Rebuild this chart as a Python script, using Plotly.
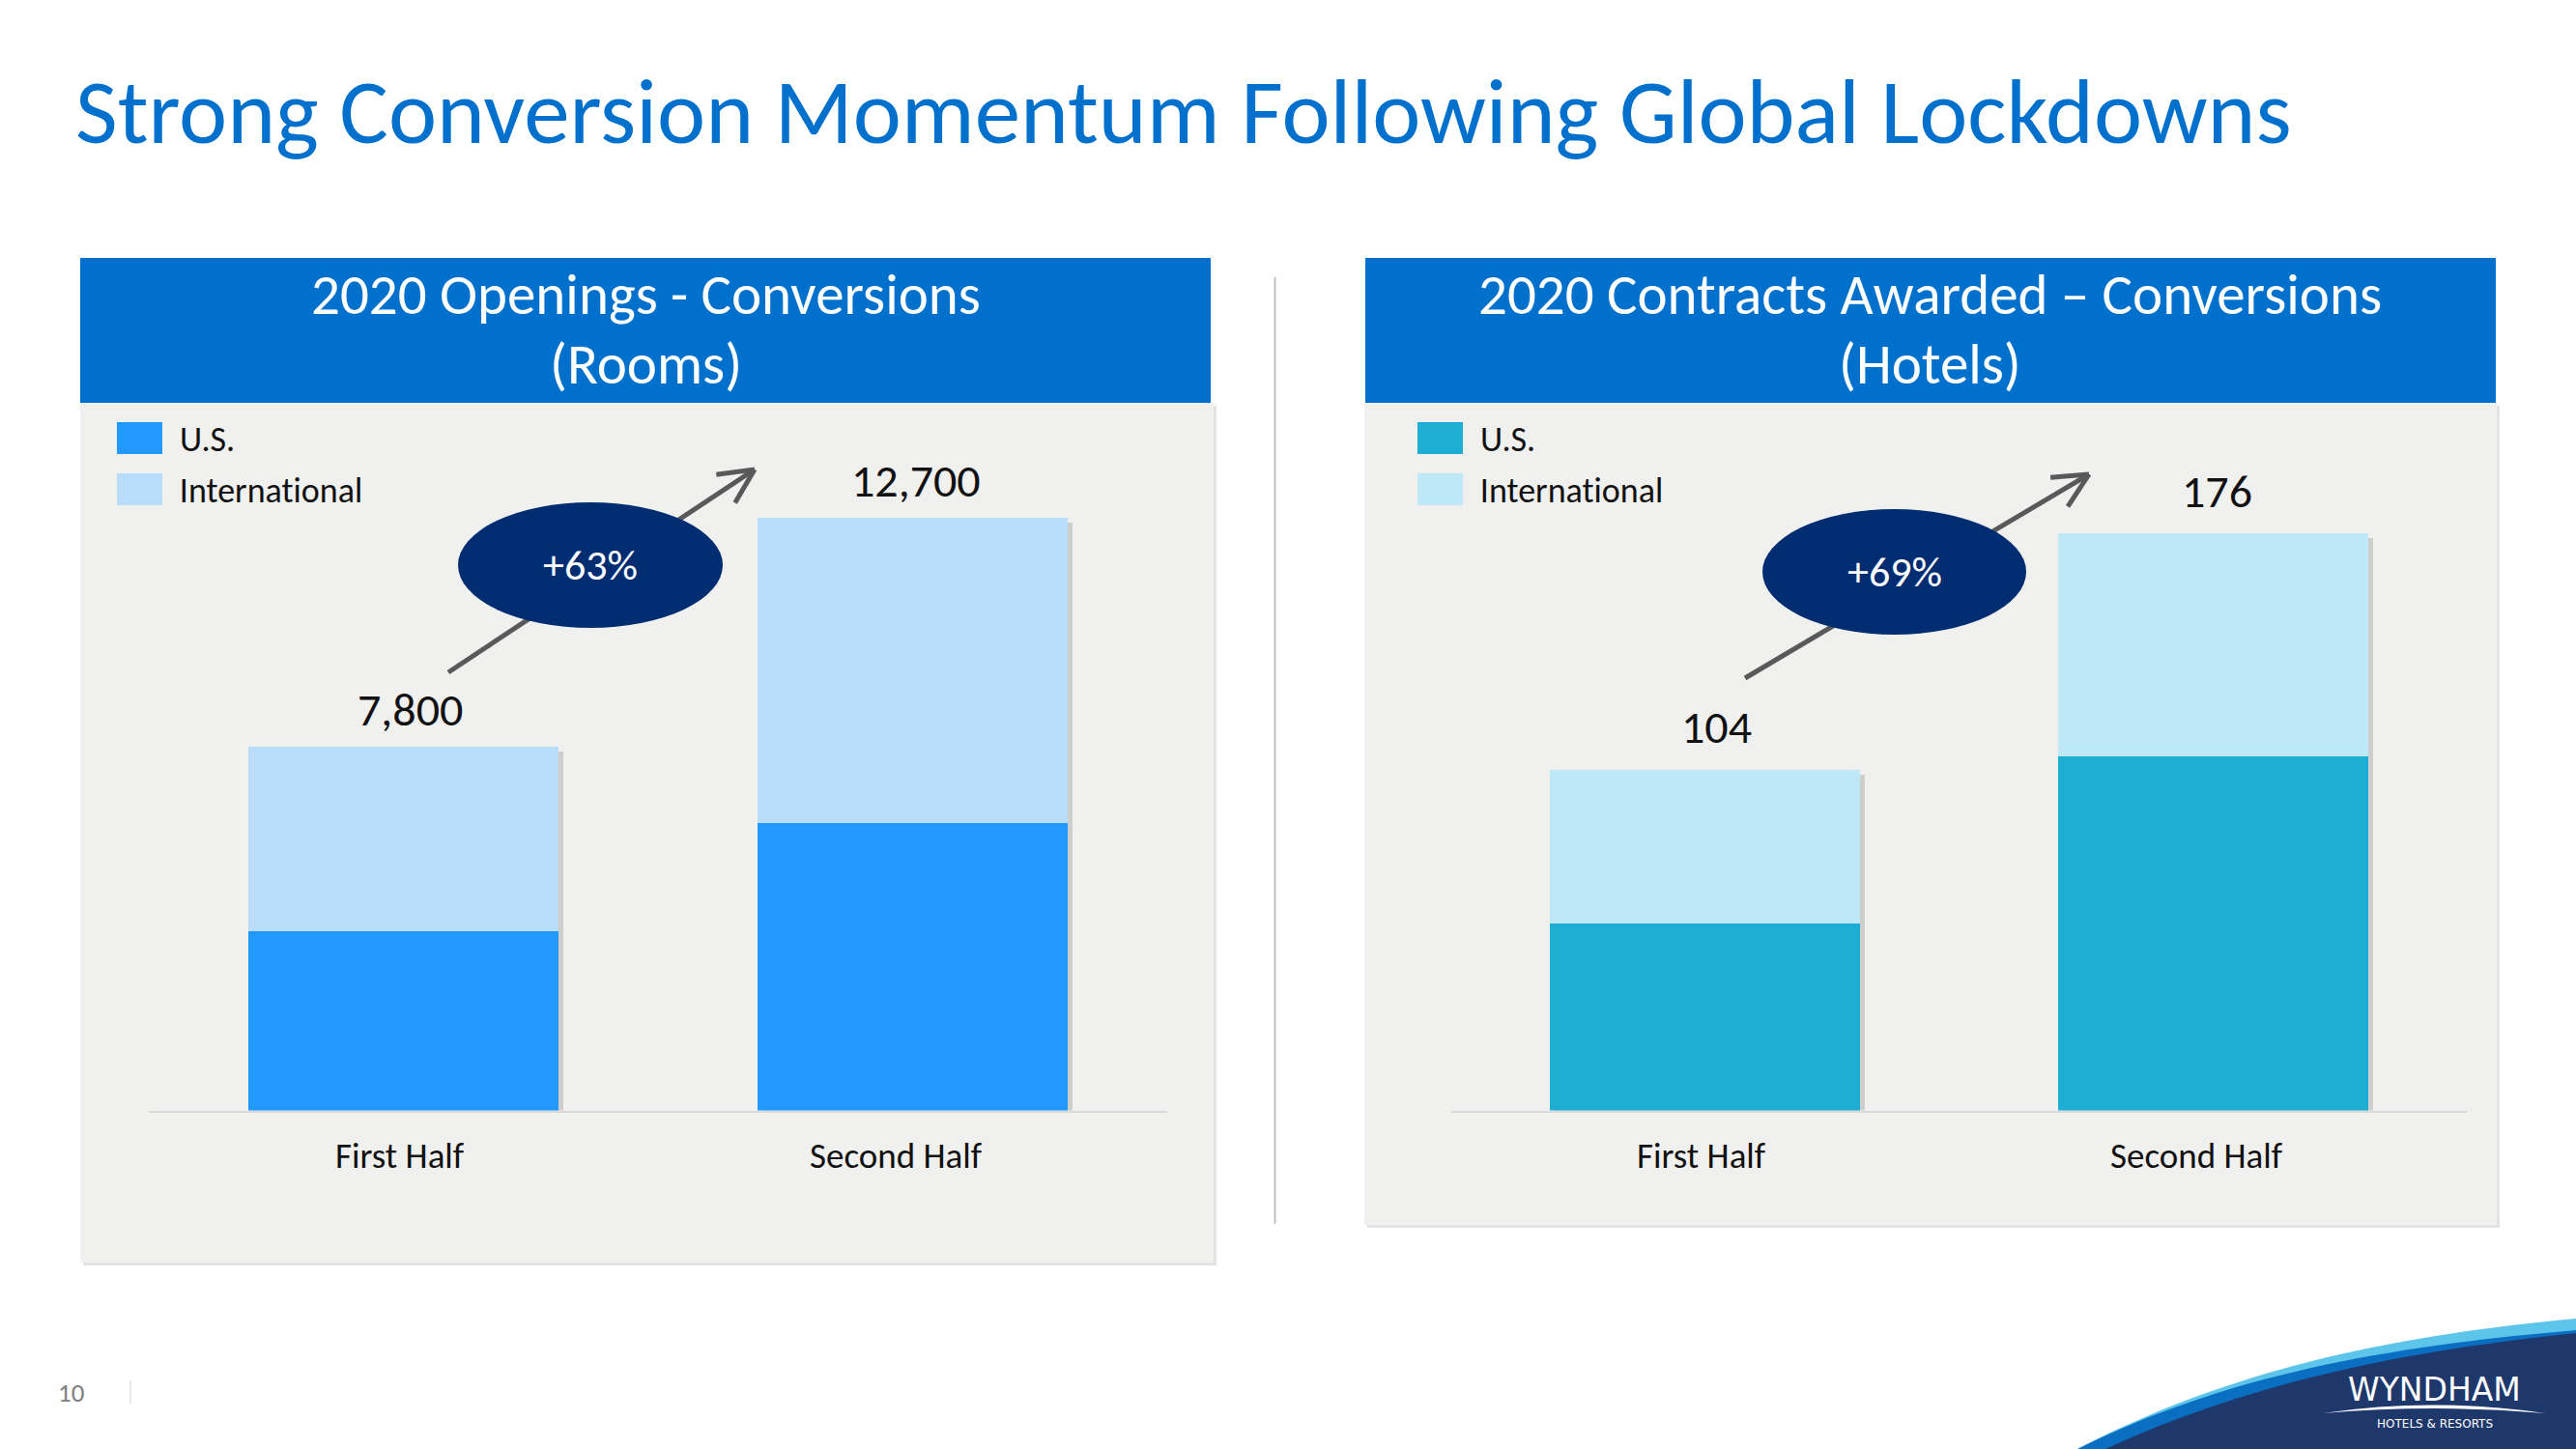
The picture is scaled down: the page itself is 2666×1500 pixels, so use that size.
import math
import plotly.graph_objects as go

W, H = 2666, 1500

# ---------------- data ----------------
categories = ["First Half", "Second Half"]
series_names = ["U.S.", "International"]
rooms_us = [3850, 6150]
rooms_intl = [3950, 6550]
hotels_us = [57, 108]
hotels_intl = [47, 68]

title_text = "Strong Conversion Momentum Following Global Lockdowns"
panel_title_1 = ["2020 Openings - Conversions", "(Rooms)"]
panel_title_2 = ["2020 Contracts Awarded – Conversions", "(Hotels)"]
page_number = "10"

FONT = "Carlito, Calibri, Lato, sans-serif"
BLUE = "#0070CD"
NAVY = "#002D72"
PANEL = "#F0F0EF"


def fx(x):
    return x / W


def fy(y):
    return 1 - y / H


# layout-only settings (pixel geometry of the slide)
panels = [
    dict(xa="x", ya="y", us=rooms_us, intl=rooms_intl, titles=panel_title_1,
         colors=("#2199FE", "#B7DDFB"),
         header=(83, 267, 1253, 417), body=(83, 417, 1256, 1307),
         xdom=(154, 1208), ytop=420, ybase=1149.5, ymax=15100,
         legend_x=(121, 168), legend_text_x=184,
         ell=(474, 520, 748, 650), arrow=((464, 696), (781, 486)), label_gap=38,
         label_dx=(7, 3), tick_dx=(-4, -17)),
    dict(xa="x2", ya="y2", us=hotels_us, intl=hotels_intl, titles=panel_title_2,
         colors=("#1EADD3", "#BEE8F6"),
         header=(1413, 267, 2583, 417), body=(1412, 417, 2584, 1268),
         xdom=(1502, 2553), ytop=420, ybase=1149.5, ymax=215,
         legend_x=(1467, 1514), legend_text_x=1530,
         ell=(1824, 527, 2097, 657), arrow=((1806, 702), (2162, 491)), label_gap=44,
         label_dx=(12, 4), tick_dx=(-4, -17)),
]

fig = go.Figure()
shapes = []
annotations = []
BAR_W = 0.61

for i, p in enumerate(panels):
    totals = [a + b for a, b in zip(p["us"], p["intl"])]
    px_per_cat = (p["xdom"][1] - p["xdom"][0]) / 2.0
    units_per_px = p["ymax"] / (p["ybase"] - p["ytop"])
    dx = 5 / px_per_cat
    dy = 5 * units_per_px
    # soft drop shadow behind each stacked bar
    fig.add_trace(go.Bar(x=categories, y=totals, base=[-dy] * len(totals),
                         offset=-BAR_W / 2 + dx, width=BAR_W,
                         marker=dict(color="rgba(0,0,0,0.14)", line=dict(width=0)),
                         xaxis=p["xa"], yaxis=p["ya"], showlegend=False, hoverinfo="skip"))
    fig.add_trace(go.Bar(x=categories, y=p["us"], width=BAR_W, name=series_names[0],
                         marker=dict(color=p["colors"][0], line=dict(width=0)),
                         xaxis=p["xa"], yaxis=p["ya"], showlegend=False))
    fig.add_trace(go.Bar(x=categories, y=p["intl"], base=p["us"], width=BAR_W, name=series_names[1],
                         marker=dict(color=p["colors"][1], line=dict(width=0)),
                         xaxis=p["xa"], yaxis=p["ya"], showlegend=False))

    sfx = "" if i == 0 else "2"
    fig.layout["xaxis" + sfx] = dict(domain=[fx(p["xdom"][0]), fx(p["xdom"][1])], type="category",
                                     range=[-0.5, 1.5], showticklabels=False, showline=True,
                                     linecolor="#D9D9D9", linewidth=2, ticks="", showgrid=False,
                                     zeroline=False, anchor="y" + sfx, fixedrange=True)
    fig.layout["yaxis" + sfx] = dict(domain=[fy(p["ybase"]), fy(p["ytop"])], range=[0, p["ymax"]],
                                     visible=False, anchor="x" + sfx, fixedrange=True)

    # panel background / shadow / header
    bx0, by0, bx1, by1 = p["body"]
    shapes.append(dict(type="rect", xref="paper", yref="paper", layer="below",
                       x0=fx(bx0 + 3), x1=fx(bx1 + 3), y0=fy(by1 + 3), y1=fy(by0 + 3),
                       fillcolor="#E3E3E3", line=dict(width=0)))
    shapes.append(dict(type="rect", xref="paper", yref="paper", layer="below",
                       x0=fx(bx0), x1=fx(bx1), y0=fy(by1), y1=fy(by0),
                       fillcolor=PANEL, line=dict(width=0)))
    hx0, hy0, hx1, hy1 = p["header"]
    shapes.append(dict(type="rect", xref="paper", yref="paper", layer="below",
                       x0=fx(hx0), x1=fx(hx1), y0=fy(hy1), y1=fy(hy0),
                       fillcolor=BLUE, line=dict(width=0)))
    hc = (hx0 + hx1) / 2
    for text, yc in zip(p["titles"], (305, 377)):
        annotations.append(dict(text=text, x=fx(hc), y=fy(yc), xref="paper", yref="paper",
                                xanchor="center", yanchor="middle", showarrow=False,
                                font=dict(family=FONT, size=59, color="white")))

    # legend
    for name, col, (ly0, ly1) in zip(series_names, p["colors"], ((437, 470), (490, 523))):
        shapes.append(dict(type="rect", xref="paper", yref="paper", layer="above",
                           x0=fx(p["legend_x"][0]), x1=fx(p["legend_x"][1]),
                           y0=fy(ly1), y1=fy(ly0), fillcolor=col, line=dict(width=0)))
        annotations.append(dict(text=name, x=fx(p["legend_text_x"]), y=fy((ly0 + ly1) / 2 + 2),
                                xref="paper", yref="paper", xanchor="left", yanchor="middle",
                                showarrow=False, font=dict(family=FONT, size=36, color="#111111")))

    # category labels and total labels
    for k, (c, t) in enumerate(zip(categories, totals)):
        annotations.append(dict(text=c, x=c, y=0, xref=p["xa"], yref=p["ya"], xanchor="center",
                                yanchor="middle", yshift=-(1196 - p["ybase"]),
                                xshift=p["tick_dx"][k], showarrow=False,
                                font=dict(family=FONT, size=37, color="#111111")))
        annotations.append(dict(text=f"{t:,}", x=c, y=t, xref=p["xa"], yref=p["ya"],
                                xanchor="center", yanchor="middle", yshift=p["label_gap"],
                                xshift=p["label_dx"][k], showarrow=False,
                                font=dict(family=FONT, size=48, color="#111111")))

    # growth arrow + ellipse
    (sx, sy), (tx, ty) = p["arrow"]
    shapes.append(dict(type="line", xref="paper", yref="paper", layer="above",
                       x0=fx(sx), y0=fy(sy), x1=fx(tx), y1=fy(ty),
                       line=dict(color="#595959", width=5)))
    back = math.atan2(sy - ty, sx - tx)
    for s in (-1, 1):
        a = back + s * math.radians(26)
        ax, ay = tx + 40 * math.cos(a), ty + 40 * math.sin(a)
        shapes.append(dict(type="line", xref="paper", yref="paper", layer="above",
                           x0=fx(tx), y0=fy(ty), x1=fx(ax), y1=fy(ay),
                           line=dict(color="#595959", width=5)))
    ex0, ey0, ex1, ey1 = p["ell"]
    shapes.append(dict(type="circle", xref="paper", yref="paper", layer="above",
                       x0=fx(ex0), x1=fx(ex1), y0=fy(ey1), y1=fy(ey0),
                       fillcolor=NAVY, line=dict(width=0)))
    growth = round((totals[1] / totals[0] - 1) * 100)
    annotations.append(dict(text=f"+{growth}%", x=fx((ex0 + ex1) / 2), y=fy((ey0 + ey1) / 2),
                            xref="paper", yref="paper", xanchor="center", yanchor="middle",
                            showarrow=False, font=dict(family=FONT, size=44, color="white")))

# divider between panels
shapes.append(dict(type="line", xref="paper", yref="paper", layer="below",
                   x0=fx(1319.5), x1=fx(1319.5), y0=fy(1267), y1=fy(287),
                   line=dict(color="#BFBFBF", width=2)))

# title
annotations.append(dict(text=title_text, x=fx(76), y=fy(116), xref="paper", yref="paper",
                        xanchor="left", yanchor="middle", showarrow=False,
                        font=dict(family=FONT, size=95, color=BLUE)))

# footer page number
annotations.append(dict(text=page_number, x=fx(58), y=fy(1441), xref="paper", yref="paper",
                        xanchor="left", yanchor="middle", showarrow=False,
                        font=dict(family=FONT, size=27, color="#7F7F7F")))
shapes.append(dict(type="line", xref="paper", yref="paper", layer="below",
                   x0=fx(135), x1=fx(135), y0=fy(1453), y1=fy(1429),
                   line=dict(color="#D0D0D0", width=1)))


def path(cmds):
    s = []
    for c, pts in cmds:
        s.append(c + " " + " ".join(f"{fx(x):.5f},{fy(y):.5f}" for x, y in pts))
    return " ".join(s) + " Z"


# logo swoosh
shapes.append(dict(type="path", xref="paper", yref="paper", layer="above", line=dict(width=0),
                   fillcolor="#5EC5EA",
                   path=path([("M", [(2150, 1500)]),
                              ("C", [(2290, 1428), (2440, 1386), (2666, 1365)]),
                              ("L", [(2666, 1500)])])))
shapes.append(dict(type="path", xref="paper", yref="paper", layer="above", line=dict(width=0),
                   fillcolor="#0B6FC1",
                   path=path([("M", [(2150, 1500)]),
                              ("C", [(2290, 1430), (2450, 1395), (2666, 1377)]),
                              ("L", [(2666, 1500)])])))
shapes.append(dict(type="path", xref="paper", yref="paper", layer="above", line=dict(width=0),
                   fillcolor="#1F386C",
                   path=path([("M", [(2179, 1500)]),
                              ("C", [(2310, 1440), (2460, 1401), (2666, 1380)]),
                              ("L", [(2666, 1500)])])))
shapes.append(dict(type="path", xref="paper", yref="paper", layer="above", line=dict(width=0),
                   fillcolor="white",
                   path=path([("M", [(2404, 1463)]),
                              ("Q", [(2519, 1446), (2634, 1463)]),
                              ("Q", [(2519, 1453), (2404, 1463)])])))
annotations.append(dict(text="WYNDHAM", x=fx(2519.5), y=fy(1438), xref="paper", yref="paper",
                        xanchor="center", yanchor="middle", showarrow=False,
                        font=dict(family="DejaVu Sans", size=33, color="white")))
annotations.append(dict(text="HOTELS &amp; RESORTS", x=fx(2519.5), y=fy(1474), xref="paper",
                        yref="paper", xanchor="center", yanchor="middle", showarrow=False,
                        font=dict(family="DejaVu Sans", size=12, color="white")))

fig.update_layout(width=W, height=H, margin=dict(l=0, r=0, t=0, b=0),
                  paper_bgcolor="white", plot_bgcolor="rgba(0,0,0,0)",
                  barmode="overlay", bargap=0, showlegend=False,
                  shapes=shapes, annotations=annotations)

post = ("document.body.style.margin='0';"
        "var st=document.createElement('style');"
        "st.textContent='text{font-variant-ligatures:none;font-feature-settings:\"liga\" 0;}';"
        "document.head.appendChild(st);")
fig.write_html("out.html", config={"displayModeBar": False}, post_script=post)
